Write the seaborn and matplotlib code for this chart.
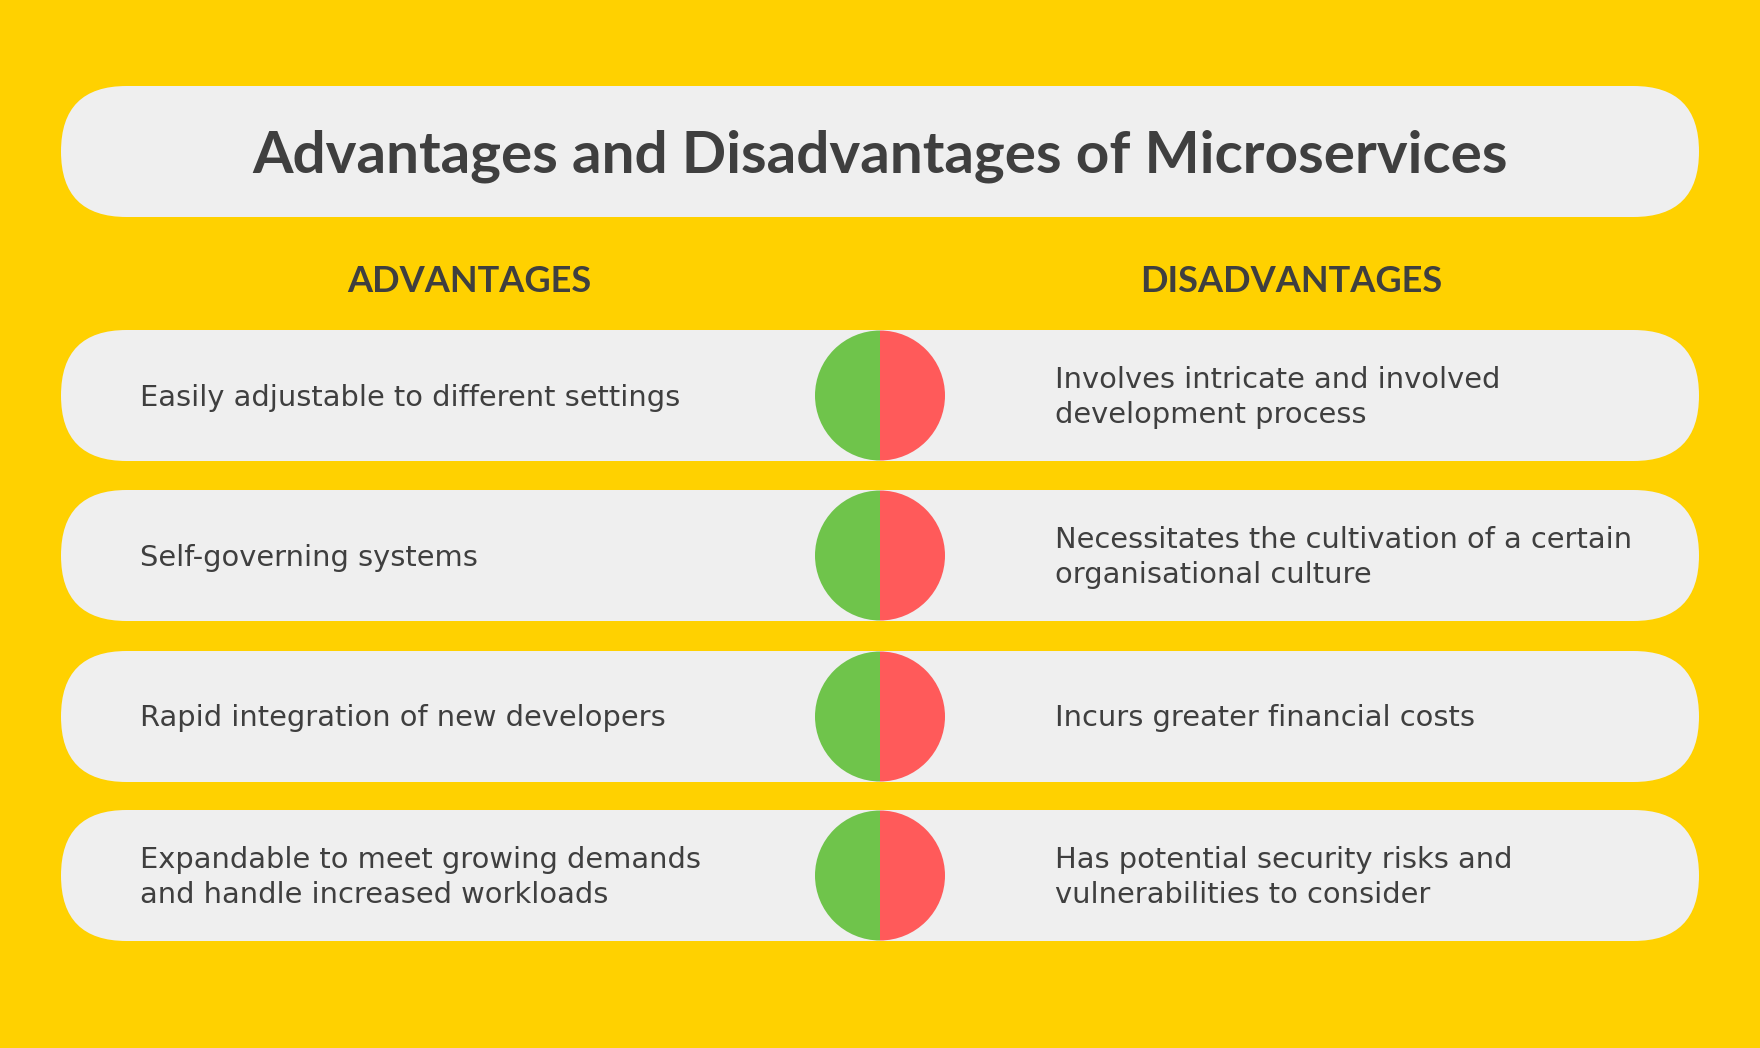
import matplotlib
matplotlib.use("Agg")
import matplotlib.pyplot as plt
from matplotlib.patches import FancyBboxPatch, Wedge
import seaborn as sns

# content
title = "Advantages and Disadvantages of Microservices"
headers = ["ADVANTAGES", "DISADVANTAGES"]
advantages = [
    "Easily adjustable to different settings",
    "Self-governing systems",
    "Rapid integration of new developers",
    "Expandable to meet growing demands\nand handle increased workloads",
]
disadvantages = [
    "Involves intricate and involved\ndevelopment process",
    "Necessitates the cultivation of a certain\norganisational culture",
    "Incurs greater financial costs",
    "Has potential security risks and\nvulnerabilities to consider",
]

# colours
bg = "#FFD100"
pill = "#EFEFEF"
green = "#6FC44B"
red = "#FF5A5A"
ink = "#3F3F3F"

sns.set_theme(style="white")
plt.rcParams["font.family"] = ["DejaVu Sans"]

W, H = 1760, 1048
fig = plt.figure(figsize=(W / 100, H / 100), dpi=100, facecolor=bg)
ax = fig.add_axes([0, 0, 1, 1])
ax.set_xlim(0, W)
ax.set_ylim(H, 0)
ax.set_aspect("equal")
ax.axis("off")
ax.set_facecolor(bg)


def rounded(x0, y0, x1, y1):
    h = y1 - y0
    p = FancyBboxPatch((x0, y0), x1 - x0, h,
                       boxstyle=f"round,pad=0,rounding_size={h / 2}",
                       fc=pill, ec="none")
    ax.add_patch(p)


# title pill
rounded(61, 86, 1699, 217)
ax.text(880, 156, title, ha="center", va="center", fontsize=42,
        fontweight="bold", color=ink, family=["Lato", "DejaVu Sans"])

# column headers
for xc, lab in zip([469, 1291], headers):
    ax.text(xc, 281, lab, ha="center", va="center", fontsize=26,
            fontweight="bold", color=ink, family=["Lato", "DejaVu Sans"])

row_top = [330, 490, 651, 810]
row_h = 131
cx = 880
r = 65

for i, (a, d) in enumerate(zip(advantages, disadvantages)):
    y0 = row_top[i]
    yc = y0 + row_h / 2
    rounded(61, y0, 1699, y0 + row_h)
    ax.add_patch(Wedge((cx, yc), r, 90, 270, fc=green, ec="none"))
    ax.add_patch(Wedge((cx, yc), r, -90, 90, fc=red, ec="none"))
    ax.text(140, yc + 2, a, ha="left", va="center", fontsize=20.8,
            color=ink, linespacing=1.3)
    ax.text(1055, yc + 2, d, ha="left", va="center", fontsize=20.8,
            color=ink, linespacing=1.3)

fig.savefig("out.png", dpi=100, facecolor=bg)
